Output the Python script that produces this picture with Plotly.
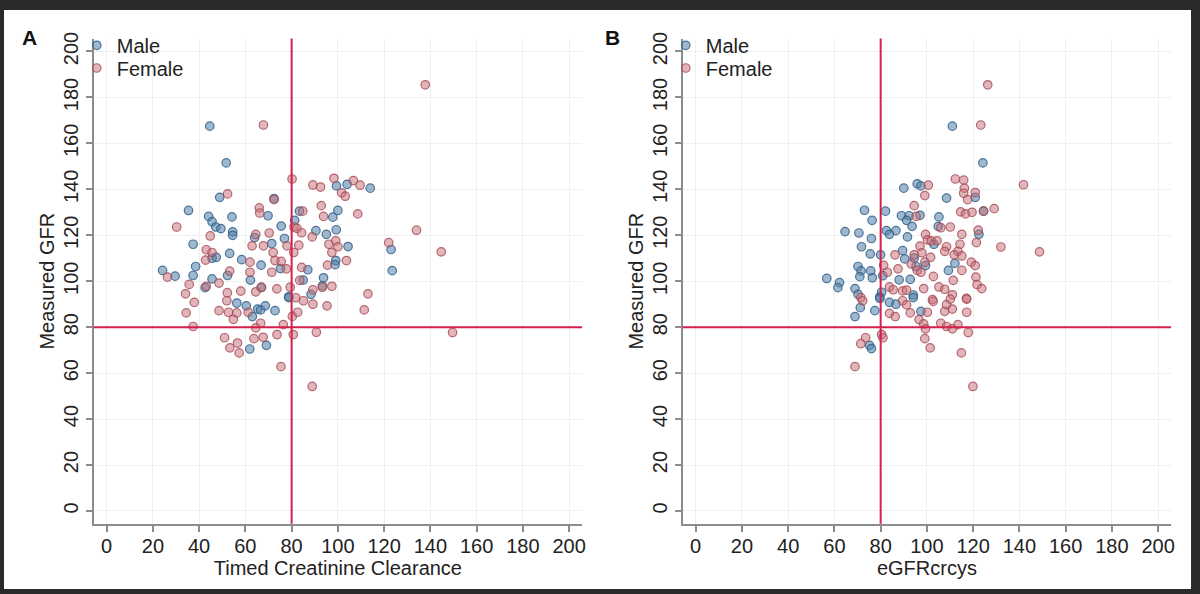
import plotly.graph_objects as go

# values
TICKS = [0, 20, 40, 60, 80, 100, 120, 140, 160, 180, 200]
CUTOFF = 80

a_male_x = [44.6, 51.7, 48.9, 72.4, 35.4, 44.1, 45.6, 47.2, 49.4, 54.2, 54.5, 54.5, 37.4, 53.2, 45.6,
            47.4, 38.5, 24.2, 29.6, 37.4, 45.6, 52.3, 42.6, 58.4, 62.2, 64.0, 69.8, 66.8, 66.8, 75.5,
            76.9, 71.4, 75.2, 78.7, 81.3, 83.4, 87.0, 88.4, 90.5, 93.3, 93.8, 95.0, 97.8, 100.0, 99.3,
            99.1, 98.8, 104.4, 99.4, 104.0, 114.0, 123.0, 123.5, 85.0, 56.3, 60.4, 63.0, 65.3, 66.6,
            68.6, 72.8, 61.9, 69.1, 78.8]
a_male_y = [167.5, 151.5, 136.5, 136.0, 130.8, 128.2, 125.9, 123.6, 122.9, 128.0, 121.5, 120.0, 116.1,
            112.1, 110.0, 110.4, 106.4, 104.7, 102.2, 102.5, 101.0, 102.5, 97.2, 109.4, 100.5, 119.0,
            128.5, 107.0, 97.2, 124.0, 118.6, 116.4, 105.5, 93.2, 126.5, 130.5, 105.0, 94.3, 122.0,
            98.0, 101.5, 120.4, 127.9, 130.8, 122.4, 109.0, 107.2, 115.1, 141.5, 142.2, 140.5, 113.8,
            104.6, 100.5, 90.5, 89.3, 84.6, 87.9, 87.5, 89.3, 87.2, 70.5, 72.1, 92.9]

a_female_x = [137.8, 67.8, 52.3, 80.2, 89.2, 92.5, 98.3, 106.7, 109.6, 101.6, 103.2, 92.8, 84.8, 66.0,
              66.2, 108.6, 93.8, 30.3, 81.0, 82.3, 44.8, 84.3, 88.9, 70.3, 64.5, 99.1, 96.1, 100.0,
              62.9, 67.8, 78.0, 83.1, 122.0, 134.0, 144.7, 43.1, 45.6, 42.8, 72.0, 80.9, 97.4, 72.8,
              62.0, 75.5, 77.7, 84.3, 95.5, 103.7, 71.4, 53.2, 26.3, 62.0, 83.5, 48.6, 43.1, 35.7,
              67.0, 73.6, 79.4, 97.4, 89.2, 93.3, 52.2, 58.0, 64.5, 34.1, 113.0, 81.8, 72.4,
              34.4, 37.9, 48.6, 52.7, 54.8, 56.3, 52.0, 61.2, 66.6, 64.5, 76.4, 80.3, 82.6, 85.1,
              89.2, 95.3, 111.4, 37.4, 51.0, 53.3, 56.6, 57.3, 63.7, 67.7, 73.7, 80.7, 90.7, 149.6,
              75.4, 88.9]
a_female_y = [185.5, 168.0, 138.0, 144.5, 141.9, 141.0, 144.8, 143.8, 141.8, 138.5, 137.0, 132.9, 130.5,
              131.9, 129.7, 129.3, 128.2, 123.6, 123.6, 123.0, 119.7, 121.1, 119.3, 121.0, 120.4, 117.6,
              116.1, 115.0, 115.4, 115.4, 115.4, 115.7, 116.8, 122.2, 112.8, 113.7, 112.5, 109.2, 112.5,
              112.5, 112.5, 109.0, 108.3, 108.6, 105.4, 106.0, 107.0, 109.0, 103.9, 104.4, 101.8, 103.9,
              100.4, 99.2, 97.8, 98.6, 97.4, 96.7, 97.4, 97.8, 96.3, 97.4, 95.0, 95.7, 95.4, 94.5, 94.5,
              92.8, 135.5,
              86.2, 90.8, 87.2, 86.5, 83.4, 86.2, 91.5, 86.5, 81.7, 79.7, 81.1, 84.7, 86.5, 91.5,
              90.0, 89.3, 87.5, 80.3, 75.4, 71.0, 73.1, 68.8, 75.0, 75.6, 76.8, 76.8, 77.8, 77.7,
              62.8, 54.2]

b_male_x = [111.0, 124.2, 95.8, 97.4, 90.0, 108.5, 120.9, 124.5, 73.0, 82.1, 76.3, 89.0, 92.3, 97.0,
            91.2, 93.6, 105.2, 104.9, 64.6, 70.6, 82.5, 86.6, 83.8, 91.6, 76.0, 71.7, 103.0, 122.5,
            75.5, 80.0, 89.5, 90.4, 94.5, 70.2, 71.5, 71.0, 75.7, 76.4, 80.9, 88.0, 92.8, 95.3, 99.4,
            109.3, 112.1, 56.7, 62.2, 61.5, 68.9, 70.2, 79.6, 80.4, 94.1, 68.9, 71.2, 77.5, 79.7,
            83.8, 86.6, 97.4, 94.1, 75.2, 76.0]
b_male_y = [167.5, 151.5, 142.4, 141.5, 140.5, 136.2, 136.5, 130.5, 130.9, 130.5, 126.5, 128.5, 128.5,
            128.7, 126.5, 123.9, 128.0, 123.9, 121.6, 121.0, 122.0, 122.0, 120.4, 119.3, 118.6, 115.0,
            116.1, 120.4, 111.9, 111.5, 113.3, 109.7, 110.1, 106.4, 104.5, 102.0, 104.5, 101.5, 102.4,
            100.6, 100.8, 106.4, 106.8, 104.7, 107.8, 101.2, 99.4, 97.2, 96.8, 94.3, 93.2, 95.2, 94.0,
            84.6, 88.5, 87.2, 92.5, 90.8, 90.0, 86.9, 92.9, 72.1, 70.7]

b_female_x = [126.3, 123.3, 112.3, 115.9, 116.2, 115.9, 120.9, 117.6, 100.6, 141.8, 99.1, 94.5, 129.1,
              114.6, 116.7, 119.5, 95.3, 99.4, 100.2, 106.0, 110.1, 122.2, 115.1, 101.9, 104.4, 97.0,
              108.5, 114.3, 121.4, 132.0, 148.7, 107.7, 113.4, 86.2, 94.5, 97.8, 111.8, 115.1, 101.6,
              93.2, 99.1, 119.2, 120.9, 115.1, 81.3, 82.9, 95.8, 97.4, 87.5, 102.8, 121.2, 111.4, 83.8,
              85.4, 89.5, 91.2, 98.6, 105.2, 107.7, 121.7, 123.7, 71.4, 111.0, 117.1, 102.4, 124.5,
              72.2, 83.8, 86.3, 89.5, 91.2, 92.8, 100.2, 102.7, 107.7, 108.5, 111.0, 110.1, 117.2,
              117.2, 96.6, 98.6, 99.4, 106.0, 108.5, 111.0, 113.4, 117.9, 80.4, 81.0, 73.5, 71.4,
              99.1, 101.4, 114.9, 68.9, 119.9]
b_female_y = [185.5, 168.0, 144.5, 144.0, 140.5, 138.3, 138.6, 135.5, 141.8, 142.0, 137.3, 132.9, 131.6,
              130.2, 129.3, 130.0, 128.2, 120.4, 118.0, 123.3, 123.6, 122.2, 120.4, 117.6, 117.6, 115.3,
              115.0, 116.1, 116.8, 114.9, 112.8, 113.0, 113.0, 111.5, 111.5, 112.4, 111.5, 111.0, 110.4,
              107.5, 108.3, 108.3, 106.8, 104.7, 106.9, 103.9, 104.7, 103.9, 105.4, 102.1, 101.8, 100.4,
              97.5, 96.3, 95.8, 96.1, 96.8, 97.5, 96.5, 98.5, 96.8, 92.9, 94.1, 92.5, 92.0, 130.5,
              91.5, 86.0, 84.6, 91.5, 89.7, 86.2, 86.5, 91.2, 86.9, 89.8, 87.9, 92.2, 92.2,
              86.5, 83.3, 81.4, 79.3, 81.7, 80.3, 79.3, 81.1, 77.7, 76.8, 75.4, 75.4, 72.8,
              75.0, 71.0, 68.8, 62.8, 54.2]

MALE = dict(color="rgba(78,128,168,0.55)", line=dict(color="rgba(52,98,138,0.85)", width=1.2))
FEMALE = dict(color="rgba(196,110,118,0.5)", line=dict(color="rgba(168,72,84,0.8)", width=1.2))
FONT = "Liberation Sans, Arial, sans-serif"
AXIS_GREY = "#8c8c8c"
FS = 20

fig = go.Figure()

# one legend box per entry so the rows sit as tight as in the original
panels = [
    ("x", "y", "legend", "legend2", a_male_x, a_male_y, a_female_x, a_female_y),
    ("x2", "y2", "legend3", "legend4", b_male_x, b_male_y, b_female_x, b_female_y),
]
for xa, ya, lg_m, lg_f, mx, my, fx, fy in panels:
    fig.add_trace(go.Scatter(x=mx, y=my, mode="markers", name="Male", xaxis=xa, yaxis=ya,
                             legend=lg_m, marker=dict(size=8.5, **MALE)))
    fig.add_trace(go.Scatter(x=fx, y=fy, mode="markers", name="Female", xaxis=xa, yaxis=ya,
                             legend=lg_f, marker=dict(size=8.5, **FEMALE)))
    # reference lines at 80
    fig.add_shape(type="line", xref=xa, yref=f"{ya} domain", x0=CUTOFF, x1=CUTOFF, y0=0, y1=1,
                  line=dict(color="#d41f4c", width=2))
    fig.add_shape(type="line", xref=f"{xa} domain", yref=ya, x0=0, x1=1, y0=CUTOFF, y1=CUTOFF,
                  line=dict(color="#d41f4c", width=2))

# white page inside the dark frame
fig.add_shape(type="rect", xref="paper", yref="paper", x0=4 / 1200, x1=1195 / 1200,
              y0=5 / 594, y1=591 / 594, fillcolor="white", line_width=0, layer="below")

axis_common = dict(
    range=[-5.6, 205.6], tickvals=TICKS, showline=True, linecolor=AXIS_GREY, linewidth=2,
    ticks="outside", ticklen=6, tickwidth=1.5, tickcolor=AXIS_GREY, showgrid=True,
    gridcolor="#f0f0f0", gridwidth=1, zeroline=False, tickfont=dict(size=FS, color="#222"),
    title_font=dict(size=FS, color="#222"),
)


def legend_box(left_px, top_px):
    return dict(x=left_px / 1200, y=1 - top_px / 594, xanchor="left", yanchor="top",
                bgcolor="rgba(0,0,0,0)", font=dict(size=FS, color="#222"), itemwidth=30)


fig.update_layout(
    width=1200, height=594, margin=dict(l=0, r=0, t=0, b=0),
    paper_bgcolor="#2a2a2a", plot_bgcolor="white", showlegend=True,
    font=dict(family=FONT, color="#222"),
    xaxis=dict(domain=[94 / 1200, 584 / 1200], anchor="y", title_text="Timed Creatinine Clearance",
               title_standoff=0, ticklabelstandoff=-3, **axis_common),
    yaxis=dict(domain=[71 / 594, 562 / 594], anchor="x", title_text="Measured GFR", tickangle=-90,
               title_standoff=0, **axis_common),
    xaxis2=dict(domain=[685 / 1200, 1175 / 1200], anchor="y2", title_text="eGFRcrcys",
                title_standoff=0, ticklabelstandoff=-3, **axis_common),
    yaxis2=dict(domain=[71 / 594, 562 / 594], anchor="x2", title_text="Measured GFR", tickangle=-90,
                title_standoff=0, **axis_common),
    legend=legend_box(77, 19),
    legend2=legend_box(77, 42),
    legend3=legend_box(668, 19),
    legend4=legend_box(668, 42),
    annotations=[
        dict(text="<b>A</b>", x=30 / 1200, y=1 - 31 / 594, xref="paper", yref="paper",
             xanchor="center", yanchor="middle", showarrow=False, font=dict(size=21, color="#111")),
        dict(text="<b>B</b>", x=615 / 1200, y=1 - 31 / 594, xref="paper", yref="paper",
             xanchor="center", yanchor="middle", showarrow=False, font=dict(size=21, color="#111")),
    ],
)

fig.write_html("out.html", config={"responsive": False, "displayModeBar": False},
               post_script="document.body.style.margin='0';")
